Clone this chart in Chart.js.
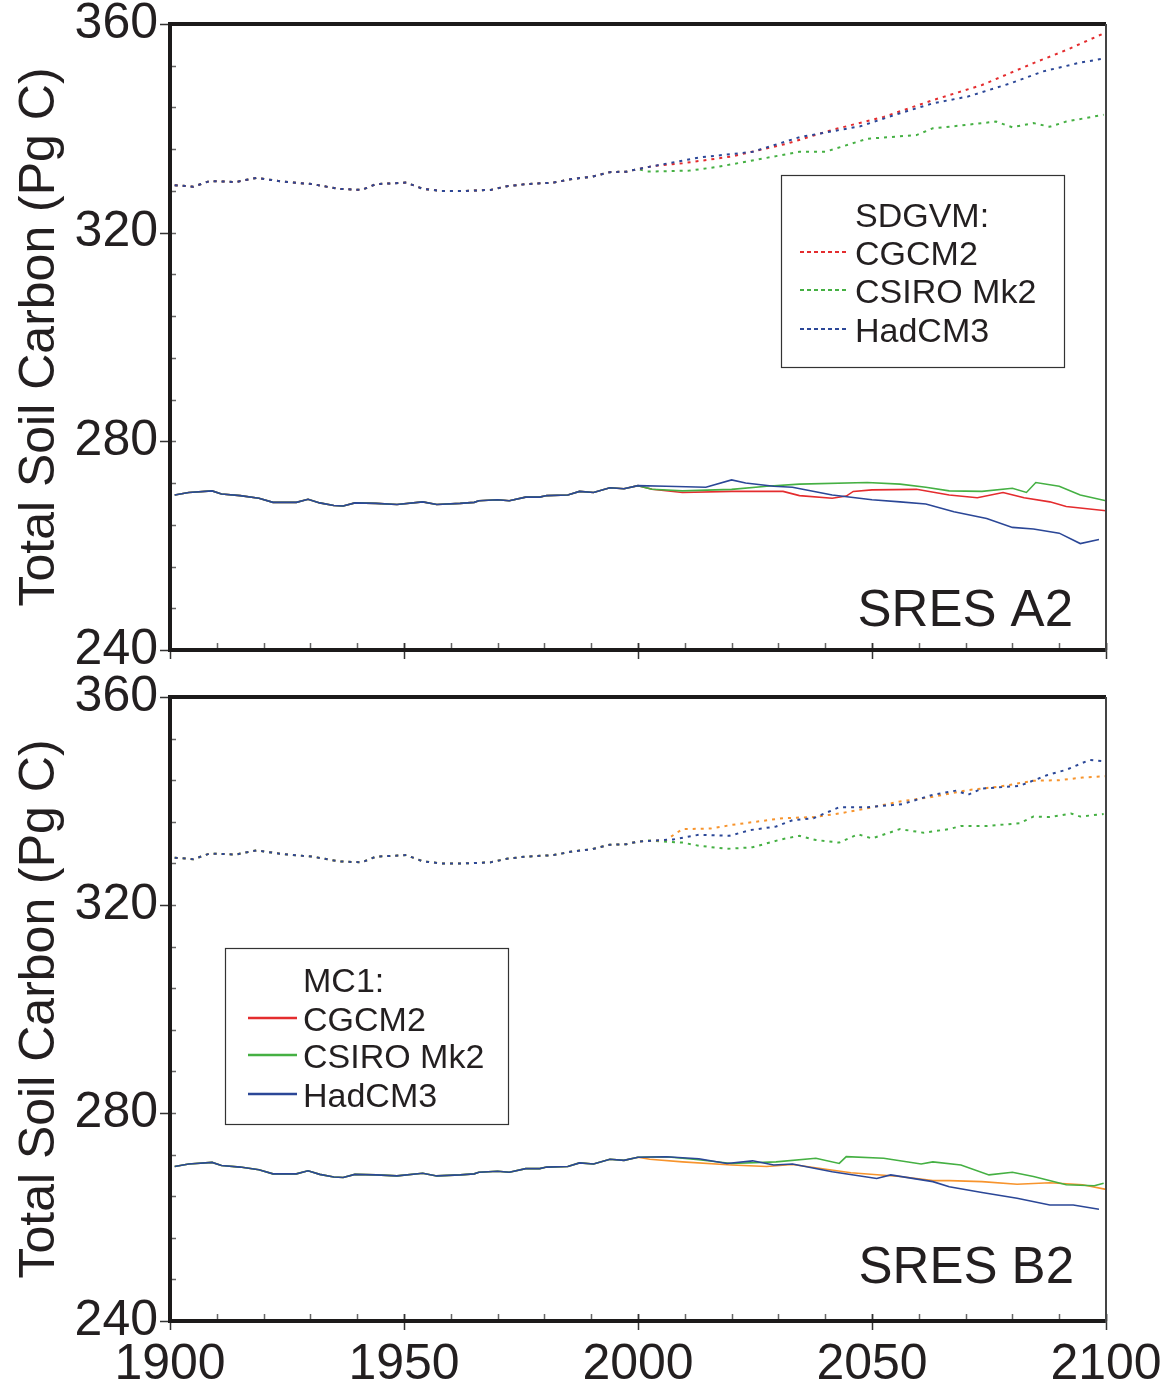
<!DOCTYPE html>
<html>
<head>
<meta charset="utf-8">
<script src="https://cdn.jsdelivr.net/npm/chart.js@4.4.1/dist/chart.umd.min.js"></script>
<style>
    body { margin: 0; background: #fff; }
    #wrap { position: relative; width: 1166px; height: 1389px; }
    canvas { position: absolute; left: 0; }
</style>
</head>
<body>
<div id="wrap">
    <canvas id="chartA2" width="1166" height="690" style="top:0"></canvas>
    <canvas id="chartB2" width="1166" height="716" style="top:673px"></canvas>
</div>
<script>
// ---- data (years / Pg C) ----
const yTicks = [240, 280, 320, 360];
const xTicks = [1900, 1950, 2000, 2050, 2100];

// shared 20th century runs
const mc1HistYears = [1901, 1904, 1909, 1911, 1915, 1919, 1922, 1927, 1929.5, 1932, 1935, 1937, 1939.5, 1944, 1948.5, 1954, 1957, 1962, 1965, 1966, 1970, 1972.5, 1976, 1979, 1980.5, 1985, 1987.5, 1990.5, 1994, 1997, 2000];
const mc1Hist = [269.7, 270.2, 270.5, 269.9, 269.6, 269.1, 268.3, 268.3, 268.9, 268.2, 267.7, 267.6, 268.2, 268.1, 267.9, 268.4, 267.9, 268.1, 268.3, 268.6, 268.8, 268.6, 269.3, 269.3, 269.6, 269.7, 270.4, 270.2, 271.1, 270.9, 271.5];
const sdgvmHistYears = [1901, 1905, 1908.5, 1914, 1918.5, 1924, 1930.5, 1936, 1941, 1944, 1950.5, 1954, 1958, 1963, 1968.5, 1972, 1976, 1982, 1986, 1990, 1994, 1997.5, 2000];
const sdgvmHist = [329.1, 328.8, 329.9, 329.7, 330.5, 329.8, 329.3, 328.4, 328.2, 329.3, 329.6, 328.4, 328.0, 328.0, 328.2, 328.9, 329.3, 329.6, 330.3, 330.7, 331.6, 331.7, 332.2];

// SRES A2, MC1
const a2McCgcmYears = [2003, 2009.5, 2020, 2031, 2034.5, 2041.5, 2044.5, 2046, 2050, 2059.5, 2066.5, 2072.5, 2078, 2082.5, 2088, 2091.5, 2100];
const a2McCgcm = [270.8, 270.2, 270.4, 270.4, 269.6, 269.1, 269.5, 270.4, 270.7, 270.8, 269.7, 269.2, 270.2, 269.2, 268.4, 267.5, 266.7];
const a2McCsiroYears = [2003, 2009.5, 2020, 2027.5, 2034.5, 2049, 2056, 2061.5, 2066.5, 2073.5, 2080, 2083, 2085, 2090, 2094.5, 2100];
const a2McCsiro = [270.8, 270.5, 270.8, 271.4, 271.8, 272.1, 271.8, 271.2, 270.5, 270.4, 271.0, 270.2, 272.1, 271.4, 269.7, 268.6];
const a2McHadYears = [2006, 2014.5, 2020, 2023, 2029, 2033, 2041.5, 2050, 2056, 2061.5, 2067.5, 2074.5, 2080, 2084.5, 2090, 2094.5, 2098.5];
const a2McHad = [271.4, 271.2, 272.6, 272.0, 271.4, 271.2, 269.7, 268.8, 268.4, 268.0, 266.5, 265.2, 263.5, 263.2, 262.4, 260.4, 261.2];

// SRES A2, SDGVM
const a2SdCgcmYears = [2003.5, 2009.5, 2020, 2032, 2041.5, 2052.5, 2063, 2073.5, 2084.5, 2091.5, 2099.5];
const a2SdCgcm = [332.8, 333.3, 334.6, 337.1, 339.7, 342.2, 345.4, 348.3, 352.5, 355.0, 358.2];
const a2SdCsiroYears = [2002, 2011, 2017, 2023, 2034.5, 2040, 2049, 2059.5, 2063, 2066.5, 2076.5, 2080, 2084.5, 2088, 2091.5, 2099.5];
const a2SdCsiro = [331.7, 331.9, 332.6, 333.6, 335.5, 335.5, 338.0, 338.7, 340.0, 340.3, 341.3, 340.2, 341.0, 340.3, 341.3, 342.6];
const a2SdHadYears = [2003.5, 2013, 2024.5, 2034.5, 2047.5, 2056, 2063, 2070.5, 2079.5, 2086.5, 2094.5, 2099];
const a2SdHad = [332.8, 334.4, 335.5, 338.3, 340.4, 342.9, 344.8, 346.1, 348.6, 350.9, 352.6, 353.3];

// SRES B2, MC1
const b2McCgcmYears = [2002.5, 2009.5, 2020, 2027.5, 2033, 2045.5, 2056, 2063, 2066.5, 2073.5, 2081, 2088, 2095, 2100];
const b2McCgcm = [271.1, 270.6, 270.0, 269.7, 270.1, 268.5, 267.8, 267.0, 267.0, 266.8, 266.3, 266.6, 266.2, 265.3];
const b2McCsiroYears = [2006, 2013, 2020, 2029.5, 2038, 2043, 2044.5, 2052.5, 2060.5, 2063, 2069, 2075, 2080, 2084.5, 2091.5, 2097.5, 2099.5];
const b2McCsiro = [271.6, 271.0, 270.3, 270.6, 271.3, 270.3, 271.6, 271.3, 270.2, 270.6, 270.0, 268.1, 268.6, 267.8, 266.2, 266.0, 266.5];
const b2McHadYears = [2006, 2013, 2019, 2024.5, 2029, 2033, 2041.5, 2051, 2054, 2063, 2066.5, 2073.5, 2081, 2088, 2093, 2098.5];
const b2McHad = [271.6, 271.2, 270.3, 270.8, 270.0, 270.2, 268.7, 267.4, 268.1, 266.8, 265.8, 264.7, 263.6, 262.3, 262.3, 261.5];

// SRES B2, SDGVM
const b2SdCgcmYears = [2006, 2009.5, 2015.5, 2020, 2031, 2037.5, 2043, 2049, 2056, 2063, 2070.5, 2077.5, 2084.5, 2090, 2095, 2100];
const b2SdCgcm = [332.5, 334.6, 334.7, 335.4, 336.7, 336.9, 337.6, 338.6, 339.9, 340.8, 342.1, 342.8, 343.9, 344.0, 344.5, 344.8];
const b2SdCsiroYears = [2002, 2009.5, 2013, 2019, 2024.5, 2030.5, 2034.5, 2038, 2043, 2047, 2050, 2056, 2061, 2066.5, 2069, 2074.5, 2081.5, 2084.5, 2088, 2092.5, 2094.5, 2099.5];
const b2SdCsiro = [332.4, 332.0, 331.4, 330.8, 331.1, 332.6, 333.3, 332.5, 332.0, 333.6, 332.8, 334.6, 333.9, 334.6, 335.2, 335.2, 335.7, 337.0, 336.9, 337.6, 337.0, 337.5];
const b2SdHadYears = [2007.5, 2013, 2019.5, 2024, 2029.5, 2033, 2037.5, 2043, 2049, 2056.5, 2063, 2068, 2070.5, 2073.5, 2081.5, 2087.5, 2091.5, 2096.5, 2099];
const b2SdHad = [332.6, 333.5, 333.3, 334.4, 335.1, 336.3, 336.7, 338.8, 338.8, 339.4, 341.2, 342.0, 341.2, 342.4, 342.9, 345.0, 346.0, 347.9, 347.7];

// ---- look ----
const FONT = "'Liberation Sans', Arial, Helvetica, sans-serif";
const INK = '#231f20';
const RED = '#e42c2e';
const GREEN = '#45b043';
const BLUE = '#2b4797';
const ORANGE = '#f7942d';

const pts = (xs, ys) => xs.map((x, i) => ({ x: x, y: ys[i] }));

// a run = 20th century part + scenario part
function run(hx, hy, fx, fy, color, dotted, order) {
    return {
        data: pts(hx.concat(fx), hy.concat(fy)),
        borderColor: color,
        borderWidth: dotted ? 2 : 1.6,
        borderDash: dotted ? [3, 5] : [],
        pointRadius: 0,
        fill: false,
        tension: 0,
        order: order
    };
}

// scales should not push the plot area around
function noPad(s) {
    s.paddingTop = 0;
    s.paddingBottom = 0;
    s.paddingLeft = 0;
    s.paddingRight = 0;
}

// frame, tick marks, legend box and scenario label
const framePlugin = {
    id: 'frame',
    afterDraw(chart, args, opts) {
        const { ctx, chartArea: a, scales: { x, y } } = chart;
        ctx.save();
        ctx.lineCap = 'butt';

        // minor ticks, inside
        ctx.strokeStyle = '#666';
        ctx.lineWidth = 1.5;
        ctx.beginPath();
        for (let v = 240; v <= 360; v += 8) {
            const py = Math.round(y.getPixelForValue(v)) + 0.5;
            ctx.moveTo(a.left, py); ctx.lineTo(a.left + 6, py);
        }
        for (let yr = 1900; yr <= 2100; yr += 10) {
            const px = Math.round(x.getPixelForValue(yr)) + 0.5;
            ctx.moveTo(px, a.bottom); ctx.lineTo(px, a.bottom - 7);
        }
        ctx.stroke();

        // major ticks, outside
        ctx.strokeStyle = '#333';
        ctx.lineWidth = 1.5;
        ctx.beginPath();
        yTicks.forEach(v => {
            const py = Math.round(y.getPixelForValue(v)) + 0.5;
            ctx.moveTo(a.left - 10, py); ctx.lineTo(a.left, py);
        });
        xTicks.forEach(yr => {
            const px = Math.round(x.getPixelForValue(yr)) + 0.5;
            ctx.moveTo(px, a.bottom - 7); ctx.lineTo(px, a.bottom + 9);
        });
        ctx.stroke();

        // box
        ctx.strokeStyle = '#1c1a1a';
        ctx.lineWidth = 4;
        ctx.beginPath();
        ctx.moveTo(a.left, a.bottom); ctx.lineTo(a.left, a.top); ctx.lineTo(a.right, a.top);
        ctx.moveTo(a.left - 2, a.bottom); ctx.lineTo(a.right, a.bottom);
        ctx.stroke();
        ctx.strokeStyle = '#444';
        ctx.lineWidth = 2;
        ctx.beginPath();
        ctx.moveTo(a.right, a.top); ctx.lineTo(a.right, a.bottom + 2);
        ctx.stroke();

        // legend
        const L = opts.legend;
        ctx.fillStyle = '#fff';
        ctx.fillRect(L.box[0], L.box[1], L.box[2] - L.box[0], L.box[3] - L.box[1]);
        ctx.strokeStyle = '#333';
        ctx.lineWidth = 1.2;
        ctx.strokeRect(L.box[0] + 0.5, L.box[1] + 0.5, L.box[2] - L.box[0], L.box[3] - L.box[1]);
        ctx.font = '34px ' + FONT;
        ctx.fillStyle = INK;
        ctx.textAlign = 'left';
        ctx.textBaseline = 'alphabetic';
        ctx.fillText(L.title, L.textX, L.baselines[0]);
        L.entries.forEach((e, i) => {
            const base = L.baselines[i + 1];
            ctx.fillText(e.label, L.textX, base);
            ctx.strokeStyle = e.color;
            ctx.lineWidth = e.dotted ? 2 : 2.5;
            ctx.setLineDash(e.dotted ? [4, 3] : []);
            ctx.beginPath();
            ctx.moveTo(L.sample[0], base - 13);
            ctx.lineTo(L.sample[1], base - 13);
            ctx.stroke();
            ctx.setLineDash([]);
        });

        // scenario label
        ctx.font = '51px ' + FONT;
        ctx.fillStyle = INK;
        ctx.textAlign = 'right';
        ctx.fillText(opts.label.text, opts.label.x, opts.label.y);
        ctx.restore();
    }
};

function makeChart(canvasId, datasets, showYears, axisHeight, padTop, frameOpts) {
    const canvas = document.getElementById(canvasId);
    const ctx = canvas.getContext('2d');
    return new Chart(ctx, {
        type: 'line',
        data: { datasets: datasets },
        options: {
            responsive: false,
            animation: false,
            devicePixelRatio: 1,
            layout: { autoPadding: false, padding: { top: padTop, right: 60, left: 0, bottom: 0 } },
            plugins: {
                legend: { display: false },
                tooltip: { enabled: false },
                frame: frameOpts
            },
            scales: {
                x: {
                    type: 'linear',
                    min: 1900,
                    max: 2100,
                    grid: { display: false, drawTicks: false },
                    border: { display: false },
                    afterFit: s => { s.height = axisHeight; noPad(s); },
                    ticks: {
                        display: showYears,
                        stepSize: 50,
                        maxRotation: 0,
                        padding: 14,
                        color: INK,
                        font: { size: 50, family: FONT },
                        callback: v => String(v)
                    }
                },
                y: {
                    min: 240,
                    max: 360,
                    grid: { display: false, drawTicks: false },
                    border: { display: false },
                    afterFit: s => { s.width = 170; noPad(s); },
                    ticks: {
                        stepSize: 40,
                        padding: 12,
                        color: INK,
                        font: { size: 50, family: FONT },
                        callback: v => String(v)
                    },
                    title: {
                        display: true,
                        text: 'Total Soil Carbon (Pg C)',
                        color: INK,
                        padding: { top: 10, bottom: 0 },
                        font: { size: 50, family: FONT }
                    }
                }
            }
        },
        plugins: [framePlugin]
    });
}

makeChart('chartA2', [
    run(mc1HistYears, mc1Hist, a2McCgcmYears, a2McCgcm, RED, false, 3),
    run(mc1HistYears, mc1Hist, a2McCsiroYears, a2McCsiro, GREEN, false, 2),
    run(mc1HistYears, mc1Hist, a2McHadYears, a2McHad, BLUE, false, 1),
    run(sdgvmHistYears, sdgvmHist, a2SdCsiroYears, a2SdCsiro, GREEN, true, 3),
    run(sdgvmHistYears, sdgvmHist, a2SdCgcmYears, a2SdCgcm, RED, true, 2),
    run(sdgvmHistYears, sdgvmHist, a2SdHadYears, a2SdHad, BLUE, true, 1)
], false, 40, 24, {
    legend: {
        box: [781, 175, 1064, 367],
        textX: 855,
        baselines: [227, 265, 303, 342],
        sample: [800, 846],
        title: 'SDGVM:',
        entries: [
            { label: 'CGCM2', color: RED, dotted: true },
            { label: 'CSIRO Mk2', color: GREEN, dotted: true },
            { label: 'HadCM3', color: BLUE, dotted: true }
        ]
    },
    label: { text: 'SRES A2', x: 1073, y: 626 }
});

makeChart('chartB2', [
    run(mc1HistYears, mc1Hist, b2McCgcmYears, b2McCgcm, ORANGE, false, 3),
    run(mc1HistYears, mc1Hist, b2McCsiroYears, b2McCsiro, GREEN, false, 2),
    run(mc1HistYears, mc1Hist, b2McHadYears, b2McHad, BLUE, false, 1),
    run(sdgvmHistYears, sdgvmHist, b2SdCsiroYears, b2SdCsiro, GREEN, true, 3),
    run(sdgvmHistYears, sdgvmHist, b2SdCgcmYears, b2SdCgcm, ORANGE, true, 2),
    run(sdgvmHistYears, sdgvmHist, b2SdHadYears, b2SdHad, BLUE, true, 1)
], true, 68, 24, {
    legend: {
        box: [225, 275, 508, 451],
        textX: 303,
        baselines: [319, 358, 395, 434],
        sample: [248, 297],
        title: 'MC1:',
        entries: [
            { label: 'CGCM2', color: RED, dotted: false },
            { label: 'CSIRO Mk2', color: GREEN, dotted: false },
            { label: 'HadCM3', color: BLUE, dotted: false }
        ]
    },
    label: { text: 'SRES B2', x: 1074, y: 610 }
});
</script>
</body>
</html>
